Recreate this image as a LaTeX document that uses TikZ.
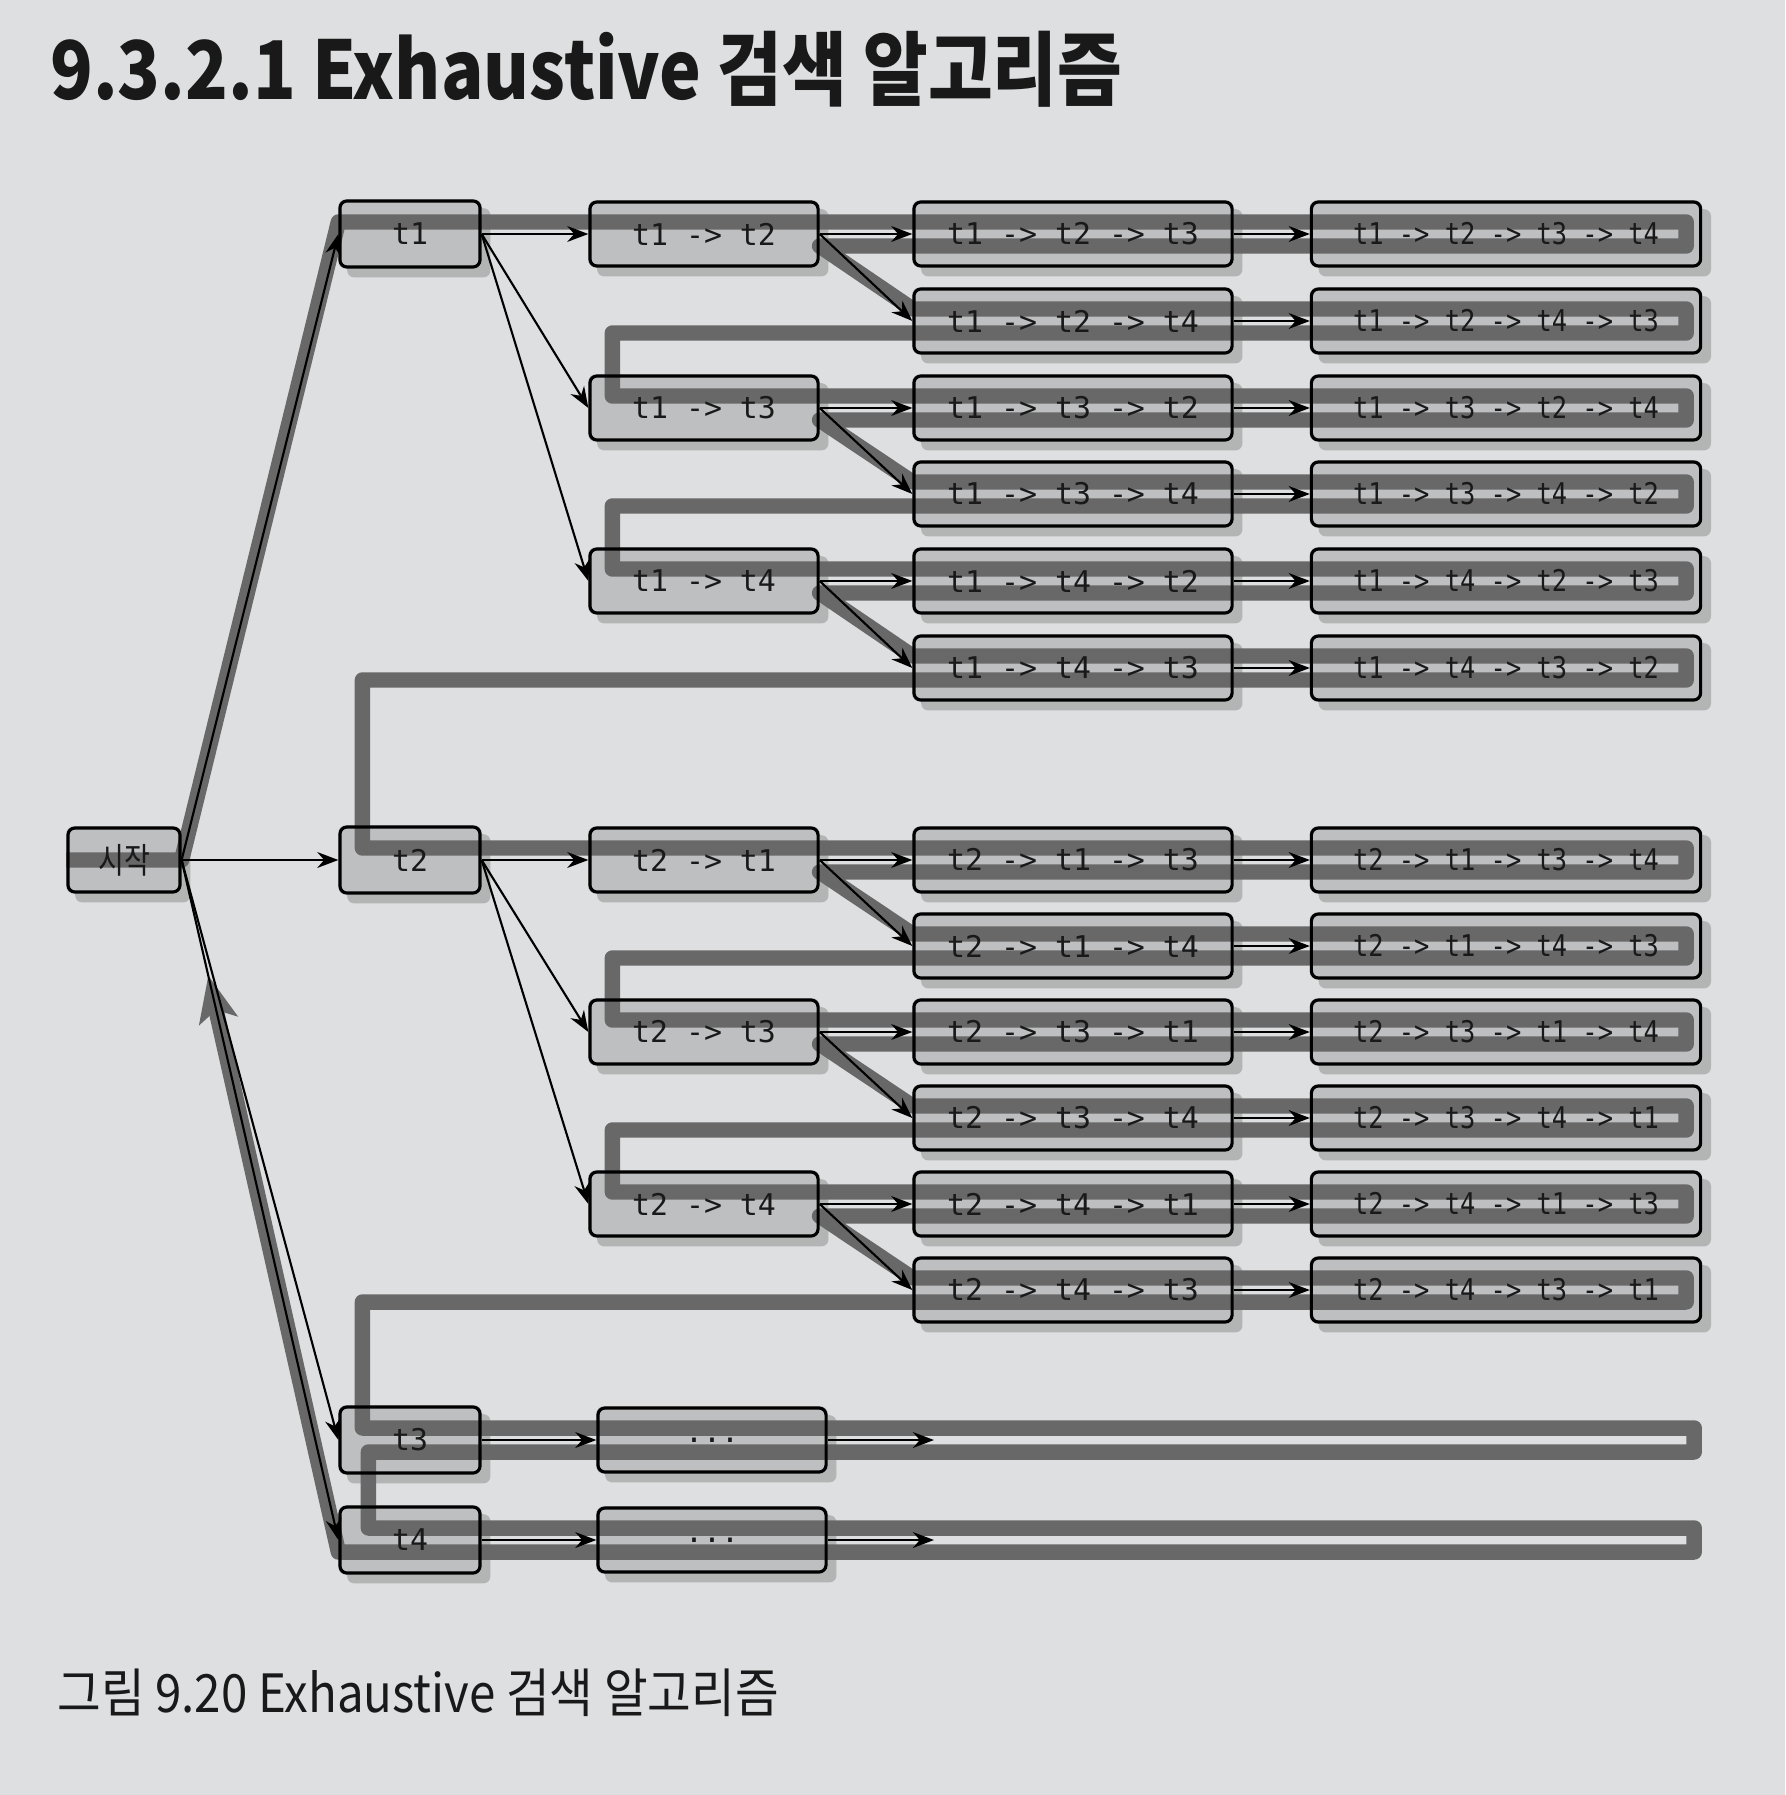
\documentclass[tikz,border=0pt]{standalone}
\usepackage{fontspec}
\usepackage{tikz}
\usetikzlibrary{calc,arrows.meta,shadows}

\setmainfont{DejaVu Sans}
\newfontfamily\boxfont{DejaVu Sans Mono}
\newfontfamily\leaffont[FakeStretch=0.85]{DejaVu Sans Mono}
\newfontfamily\startfont[FakeStretch=0.8]{Noto Sans CJK KR}
\newfontfamily\headfont[FakeStretch=0.87]{Noto Sans CJK KR}
\newfontfamily\capfont[FakeStretch=0.9]{Noto Sans CJK KR}

\definecolor{paper}{RGB}{222,223,224}
\definecolor{boxgray}{RGB}{190,191,192}
\definecolor{bandgray}{RGB}{104,104,105}
\definecolor{textgray}{RGB}{25,25,25}

\pgfdeclarelayer{background}
\pgfdeclarelayer{bands}
\pgfsetlayers{background,bands,main}

\begin{document}
\begin{tikzpicture}[x=0.01cm,y=-0.01cm,
  taskbox/.style={draw=black,line width=0.9pt,rounded corners=2pt,inner sep=0pt,
    minimum height=0.64cm,text=textgray,font=\boxfont\fontsize{8.5}{10}\selectfont},
  lvlone/.style={taskbox,minimum width=1.40cm,minimum height=0.66cm},
  lvltwo/.style={taskbox,minimum width=2.28cm},
  lvlthree/.style={taskbox,minimum width=3.18cm},
  lvlfour/.style={taskbox,minimum width=3.89cm,font=\leaffont\fontsize{8.5}{10}\selectfont},
  link/.style={line width=0.6pt,-{Stealth[length=6pt,width=4.5pt]}},
  band/.style={draw=bandgray,line width=4.4pt,line join=round}]
  \useasboundingbox (0,0) rectangle (1785,1795);

  % headings
  \node[anchor=base west,text=textgray,font=\headfont\bfseries\fontsize{23}{26}\selectfont] (title) at (38,100) {9.3.2.1 Exhaustive 검색 알고리즘};
  \node[anchor=base west,text=textgray,font=\capfont\fontsize{15}{18}\selectfont] (caption) at (45,1712) {그림 9.20 Exhaustive 검색 알고리즘};

  % tree
  \node[taskbox,minimum width=1.12cm,font=\startfont\fontsize{10}{12}\selectfont] (start) at (124,860) {시작};
  \node[lvlone] (t1) at (410,234) {t1};
  \node[lvlone] (t2) at (410,860) {t2};
  \node[lvlone] (t3) at (410,1440) {t3};
  \node[lvlone] (t4) at (410,1540) {t4};

  \node[lvltwo] (t12) at (704,234) {t1 -> t2};
  \node[lvltwo] (t13) at (704,408) {t1 -> t3};
  \node[lvltwo] (t14) at (704,581) {t1 -> t4};
  \node[lvltwo] (t21) at (704,860) {t2 -> t1};
  \node[lvltwo] (t23) at (704,1032) {t2 -> t3};
  \node[lvltwo] (t24) at (704,1204) {t2 -> t4};
  \node[lvltwo] (dots3) at (712,1440) {...};
  \node[lvltwo] (dots4) at (712,1540) {...};

  \node[lvlthree] (t123) at (1073,234) {t1 -> t2 -> t3};
  \node[lvlthree] (t124) at (1073,321) {t1 -> t2 -> t4};
  \node[lvlthree] (t132) at (1073,408) {t1 -> t3 -> t2};
  \node[lvlthree] (t134) at (1073,494) {t1 -> t3 -> t4};
  \node[lvlthree] (t142) at (1073,581) {t1 -> t4 -> t2};
  \node[lvlthree] (t143) at (1073,668) {t1 -> t4 -> t3};
  \node[lvlthree] (t213) at (1073,860) {t2 -> t1 -> t3};
  \node[lvlthree] (t214) at (1073,946) {t2 -> t1 -> t4};
  \node[lvlthree] (t231) at (1073,1032) {t2 -> t3 -> t1};
  \node[lvlthree] (t234) at (1073,1118) {t2 -> t3 -> t4};
  \node[lvlthree] (t241) at (1073,1204) {t2 -> t4 -> t1};
  \node[lvlthree] (t243) at (1073,1290) {t2 -> t4 -> t3};

  \node[lvlfour] (t1234) at (1506,234) {t1 -> t2 -> t3 -> t4};
  \node[lvlfour] (t1243) at (1506,321) {t1 -> t2 -> t4 -> t3};
  \node[lvlfour] (t1324) at (1506,408) {t1 -> t3 -> t2 -> t4};
  \node[lvlfour] (t1342) at (1506,494) {t1 -> t3 -> t4 -> t2};
  \node[lvlfour] (t1423) at (1506,581) {t1 -> t4 -> t2 -> t3};
  \node[lvlfour] (t1432) at (1506,668) {t1 -> t4 -> t3 -> t2};
  \node[lvlfour] (t2134) at (1506,860) {t2 -> t1 -> t3 -> t4};
  \node[lvlfour] (t2143) at (1506,946) {t2 -> t1 -> t4 -> t3};
  \node[lvlfour] (t2314) at (1506,1032) {t2 -> t3 -> t1 -> t4};
  \node[lvlfour] (t2341) at (1506,1118) {t2 -> t3 -> t4 -> t1};
  \node[lvlfour] (t2413) at (1506,1204) {t2 -> t4 -> t1 -> t3};
  \node[lvlfour] (t2431) at (1506,1290) {t2 -> t4 -> t3 -> t1};

  \coordinate (c3) at (934,1440);
  \coordinate (c4) at (934,1540);

  % paper and box fills
  \begin{pgfonlayer}{background}
    \fill[paper] (0,0) rectangle (1785,1795);
    \foreach \n in {start,t1,t2,t3,t4,t12,t13,t14,t21,t23,t24,dots3,dots4,
        t123,t124,t132,t134,t142,t143,t213,t214,t231,t234,t241,t243,
        t1234,t1243,t1324,t1342,t1423,t1432,t2134,t2143,t2314,t2341,t2413,t2431}
      \fill[boxgray,rounded corners=2pt,
        drop shadow={shadow xshift=2.5pt,shadow yshift=-2.5pt,opacity=0.45}]
        (\n.south west) rectangle (\n.north east);
  \end{pgfonlayer}

  % search order
  \begin{pgfonlayer}{bands}
    \draw[band,-{Stealth[length=13pt,width=11pt,inset=3pt]}] (start.west) -- (start.east)
      -- ($(t1.west)+(0,-12)$)
      -- ($(t1234.east)+(-16,-12)$) -- ($(t1234.east)+(-16,12)$)
      -- ($(t12.east)+(0,12)$) -- ($(t124.west)+(0,-12)$)
      -- ($(t1243.east)+(-16,-12)$) -- ($(t1243.east)+(-16,12)$)
      -| ($(t13.west)+(24,-12)$)
      -- ($(t1324.east)+(-16,-12)$) -- ($(t1324.east)+(-16,12)$)
      -- ($(t13.east)+(0,12)$) -- ($(t134.west)+(0,-12)$)
      -- ($(t1342.east)+(-16,-12)$) -- ($(t1342.east)+(-16,12)$)
      -| ($(t14.west)+(24,-12)$)
      -- ($(t1423.east)+(-16,-12)$) -- ($(t1423.east)+(-16,12)$)
      -- ($(t14.east)+(0,12)$) -- ($(t143.west)+(0,-12)$)
      -- ($(t1432.east)+(-16,-12)$) -- ($(t1432.east)+(-16,12)$)
      -| ($(t2.west)+(24,-12)$)
      -- ($(t2134.east)+(-16,-12)$) -- ($(t2134.east)+(-16,12)$)
      -- ($(t21.east)+(0,12)$) -- ($(t214.west)+(0,-12)$)
      -- ($(t2143.east)+(-16,-12)$) -- ($(t2143.east)+(-16,12)$)
      -| ($(t23.west)+(24,-12)$)
      -- ($(t2314.east)+(-16,-12)$) -- ($(t2314.east)+(-16,12)$)
      -- ($(t23.east)+(0,12)$) -- ($(t234.west)+(0,-12)$)
      -- ($(t2341.east)+(-16,-12)$) -- ($(t2341.east)+(-16,12)$)
      -| ($(t24.west)+(24,-12)$)
      -- ($(t2413.east)+(-16,-12)$) -- ($(t2413.east)+(-16,12)$)
      -- ($(t24.east)+(0,12)$) -- ($(t243.west)+(0,-12)$)
      -- ($(t2431.east)+(-16,-12)$) -- ($(t2431.east)+(-16,12)$)
      -| ($(t3.west)+(24,-12)$)
      -- ($(t2431.east |- t3.east)+(-8,-12)$) -- ($(t2431.east |- t3.east)+(-8,12)$)
      -| ($(t4.west)+(30,-12)$)
      -- ($(t2431.east |- t4.east)+(-8,-12)$) -- ($(t2431.east |- t4.east)+(-8,12)$)
      -- ($(t4.west)+(0,12)$)
      -- ($(t4.west)!0.83!(start.east)$);
  \end{pgfonlayer}

  % tree edges
  \draw[link] (start.east) -- (t1.west);
  \draw[link] (start.east) -- (t2.west);
  \draw[link] (start.east) -- (t3.west);
  \draw[link] (start.east) -- (t4.west);
  \draw[link] (t1.east) -- (t12.west);
  \draw[link] (t1.east) -- (t13.west);
  \draw[link] (t1.east) -- (t14.west);
  \draw[link] (t2.east) -- (t21.west);
  \draw[link] (t2.east) -- (t23.west);
  \draw[link] (t2.east) -- (t24.west);
  \draw[link] (t12.east) -- (t123.west);
  \draw[link] (t12.east) -- (t124.west);
  \draw[link] (t13.east) -- (t132.west);
  \draw[link] (t13.east) -- (t134.west);
  \draw[link] (t14.east) -- (t142.west);
  \draw[link] (t14.east) -- (t143.west);
  \draw[link] (t21.east) -- (t213.west);
  \draw[link] (t21.east) -- (t214.west);
  \draw[link] (t23.east) -- (t231.west);
  \draw[link] (t23.east) -- (t234.west);
  \draw[link] (t24.east) -- (t241.west);
  \draw[link] (t24.east) -- (t243.west);
  \draw[link] (t123.east) -- (t1234.west);
  \draw[link] (t124.east) -- (t1243.west);
  \draw[link] (t132.east) -- (t1324.west);
  \draw[link] (t134.east) -- (t1342.west);
  \draw[link] (t142.east) -- (t1423.west);
  \draw[link] (t143.east) -- (t1432.west);
  \draw[link] (t213.east) -- (t2134.west);
  \draw[link] (t214.east) -- (t2143.west);
  \draw[link] (t231.east) -- (t2314.west);
  \draw[link] (t234.east) -- (t2341.west);
  \draw[link] (t241.east) -- (t2413.west);
  \draw[link] (t243.east) -- (t2431.west);
  \draw[link] (t3.east) -- (dots3.west);
  \draw[link] (dots3.east) -- (c3);
  \draw[link] (t4.east) -- (dots4.west);
  \draw[link] (dots4.east) -- (c4);
\end{tikzpicture}
\end{document}
